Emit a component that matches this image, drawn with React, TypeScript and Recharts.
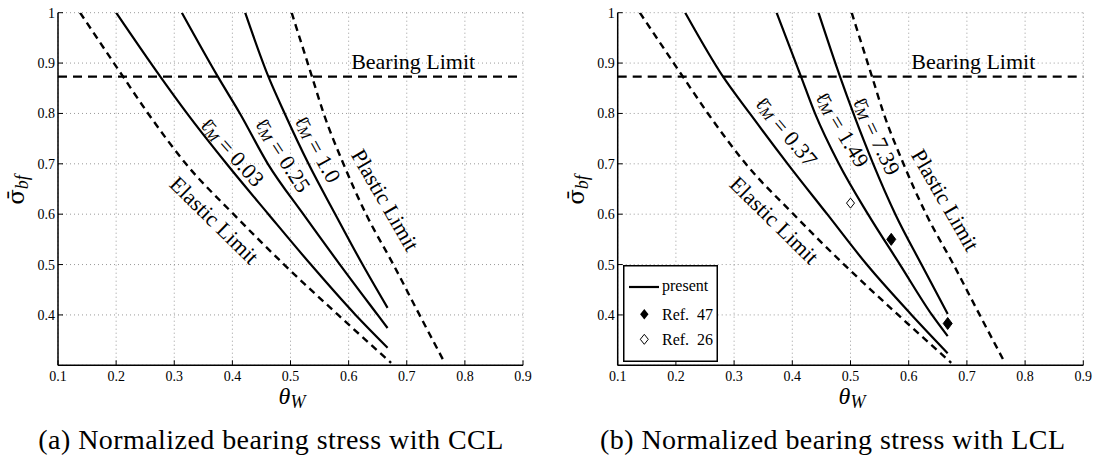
import {
  CartesianGrid,
  ComposedChart,
  Legend,
  Line,
  ReferenceDot,
  ReferenceLine,
  Scatter,
  XAxis,
  YAxis,
} from "recharts";

type Pt = { x: number; y: number };

const xTicks = [0.1, 0.2, 0.3, 0.4, 0.5, 0.6, 0.7, 0.8, 0.9];
const yTicks = [0.4, 0.5, 0.6, 0.7, 0.8, 0.9, 1];
const bearingLimit = 0.873;

// limits are the same in both panels
const elasticLimit: Pt[] = [
  { x: 0.138, y: 1 },
  { x: 0.212, y: 0.873 },
  { x: 0.255, y: 0.8 },
  { x: 0.32, y: 0.7 },
  { x: 0.402, y: 0.6 },
  { x: 0.489, y: 0.5 },
  { x: 0.582, y: 0.4 },
  { x: 0.673, y: 0.305 },
];
const plasticLimit: Pt[] = [
  { x: 0.502, y: 1 },
  { x: 0.537, y: 0.873 },
  { x: 0.557, y: 0.8 },
  { x: 0.591, y: 0.7 },
  { x: 0.63, y: 0.6 },
  { x: 0.677, y: 0.5 },
  { x: 0.722, y: 0.4 },
  { x: 0.763, y: 0.31 },
];

// (a) CCL
const ccl003: Pt[] = [
  { x: 0.2, y: 1 },
  { x: 0.276, y: 0.873 },
  { x: 0.322, y: 0.8 },
  { x: 0.39, y: 0.7 },
  { x: 0.462, y: 0.6 },
  { x: 0.535, y: 0.5 },
  { x: 0.612, y: 0.4 },
  { x: 0.667, y: 0.335 },
];
const ccl025: Pt[] = [
  { x: 0.313, y: 1 },
  { x: 0.375, y: 0.873 },
  { x: 0.413, y: 0.8 },
  { x: 0.461, y: 0.7 },
  { x: 0.522, y: 0.6 },
  { x: 0.585, y: 0.5 },
  { x: 0.65, y: 0.4 },
  { x: 0.667, y: 0.374 },
];
const ccl100: Pt[] = [
  { x: 0.422, y: 1 },
  { x: 0.462, y: 0.873 },
  { x: 0.49, y: 0.8 },
  { x: 0.531, y: 0.7 },
  { x: 0.577, y: 0.6 },
  { x: 0.624, y: 0.5 },
  { x: 0.667, y: 0.414 },
];

// (b) LCL
const lcl037: Pt[] = [
  { x: 0.216, y: 1 },
  { x: 0.281, y: 0.873 },
  { x: 0.327, y: 0.8 },
  { x: 0.392, y: 0.7 },
  { x: 0.46, y: 0.6 },
  { x: 0.528, y: 0.5 },
  { x: 0.605, y: 0.4 },
  { x: 0.667, y: 0.324 },
];
const lcl149: Pt[] = [
  { x: 0.373, y: 1 },
  { x: 0.415, y: 0.873 },
  { x: 0.439, y: 0.8 },
  { x: 0.48, y: 0.7 },
  { x: 0.53, y: 0.6 },
  { x: 0.585, y: 0.5 },
  { x: 0.64, y: 0.4 },
  { x: 0.667, y: 0.358 },
];
const lcl739: Pt[] = [
  { x: 0.445, y: 1 },
  { x: 0.482, y: 0.873 },
  { x: 0.505, y: 0.8 },
  { x: 0.539, y: 0.7 },
  { x: 0.577, y: 0.6 },
  { x: 0.622, y: 0.5 },
  { x: 0.667, y: 0.402 },
];

const ref47: Pt[] = [
  { x: 0.57, y: 0.55 },
  { x: 0.667, y: 0.383 },
];
const ref26: Pt[] = [{ x: 0.5, y: 0.622 }];

type Note = { x: number; y: number; angle: number; lm?: string; text?: string };

const limitNotes: Note[] = [
  { x: 0.369, y: 0.588, angle: 44.5, text: "Elastic Limit" },
  { x: 0.663, y: 0.628, angle: 60, text: "Plastic Limit" },
  { x: 0.711, y: 0.903, angle: 0, text: "Bearing Limit" },
];
const cclNotes: Note[] = [
  { x: 0.4, y: 0.724, angle: 48, lm: "0.03" },
  { x: 0.487, y: 0.718, angle: 57, lm: "0.25" },
  { x: 0.547, y: 0.73, angle: 61, lm: "1.0" },
];
const lclNotes: Note[] = [
  { x: 0.39, y: 0.765, angle: 50, lm: "0.37" },
  { x: 0.486, y: 0.769, angle: 59, lm: "1.49" },
  { x: 0.545, y: 0.756, angle: 64.5, lm: "7.39" },
];

const FONT = "Liberation Serif, DejaVu Serif, serif";
const MATH = "DejaVu Serif, serif";
const H = 457;

function XTick({ x, y, payload }: any) {
  return (
    <g>
      <line x1={x} x2={x} y1={y} y2={y - 5} stroke="#000" strokeWidth={1} />
      <text x={x} y={y + 16} textAnchor="middle" style={{ fontFamily: FONT, fontSize: 14 }} fill="#000">
        {Number(payload.value).toFixed(1)}
      </text>
    </g>
  );
}

function YTick({ x, y, payload }: any) {
  const v = Number(payload.value);
  return (
    <g>
      <line x1={x} x2={x + 5} y1={y} y2={y} stroke="#000" strokeWidth={1} />
      <text x={x - 3} y={y + 5} textAnchor="end" style={{ fontFamily: FONT, fontSize: 14 }} fill="#000">
        {v === 1 ? "1" : v.toFixed(1)}
      </text>
    </g>
  );
}

function NoteText({ cx, cy, note }: { cx: number; cy: number; note: Note }) {
  return (
    <text
      transform={`translate(${cx},${cy}) rotate(${note.angle})`}
      textAnchor="middle"
      dominantBaseline="central"
      style={{ fontFamily: FONT, fontSize: 22 }}
      fill="#000"
    >
      {note.lm ? (
        <>
          <tspan style={{ fontFamily: MATH, fontSize: 20 }}>{"\u2113\u0304"}</tspan>
          <tspan fontStyle="italic" style={{ fontSize: 15 }} dy={4}>
            M
          </tspan>
          <tspan dy={-4}>{` = ${note.lm}`}</tspan>
        </>
      ) : (
        note.text
      )}
    </text>
  );
}

const diamond = (cx: number, cy: number, w: number, h: number) =>
  `${cx},${cy - h} ${cx + w},${cy} ${cx},${cy + h} ${cx - w},${cy}`;

function FilledDiamond({ cx, cy }: any) {
  return <polygon points={diamond(cx, cy, 4.5, 6)} fill="#000" stroke="#000" strokeWidth={1} />;
}
function OpenDiamond({ cx, cy }: any) {
  return <polygon points={diamond(cx, cy, 4, 5)} fill="#fff" stroke="#000" strokeWidth={1} />;
}

function LegendBox() {
  const t = { fontFamily: FONT, fontSize: 16 };
  return (
    <svg width={95} height={97} style={{ display: "block" }}>
      <rect x={0.75} y={0.75} width={93.5} height={95.5} fill="#fff" stroke="#000" strokeWidth={1.5} />
      <line x1={6} x2={36} y1={22} y2={22} stroke="#000" strokeWidth={2.2} />
      <text x={39} y={26} style={t}>
        present
      </text>
      <polygon points={diamond(21.3, 49.3, 4.2, 5.2)} fill="#000" />
      <text x={39} y={54.5} style={t}>
        {"Ref.\u00a0 47"}
      </text>
      <polygon points={diamond(21.3, 74.3, 4, 5)} fill="#fff" stroke="#000" strokeWidth={1} />
      <text x={39} y={79.5} style={t}>
        {"Ref.\u00a0 26"}
      </text>
    </svg>
  );
}

interface PanelProps {
  left: number;
  width: number;
  yAxisWidth: number;
  marginRight: number;
  curves: Pt[][];
  notes: Note[];
  withRefs?: boolean;
}

function Panel({ left, width, yAxisWidth, marginRight, curves, notes, withRefs }: PanelProps) {
  const allNotes = [...limitNotes, ...notes];
  return (
    <div style={{ position: "absolute", left, top: 0 }}>
      <ComposedChart
        width={width}
        height={H}
        margin={{ top: 12.7, right: marginRight, bottom: 61.7, left: 0 }}
      >
        <CartesianGrid stroke="#9a9a9a" strokeDasharray="1 3" strokeWidth={1} />
        <XAxis
          type="number"
          dataKey="x"
          domain={[0.1, 0.9]}
          ticks={xTicks}
          interval={0}
          height={30}
          tickSize={0}
          tickMargin={0}
          tickLine={false}
          axisLine={{ stroke: "#000", strokeWidth: 1.5 }}
          tick={(p: any) => <XTick {...p} />}
          allowDataOverflow
        />
        <YAxis
          type="number"
          dataKey="y"
          domain={[0.3, 1]}
          ticks={yTicks}
          interval={0}
          width={yAxisWidth}
          tickSize={0}
          tickMargin={0}
          tickLine={false}
          axisLine={{ stroke: "#000", strokeWidth: 1.5 }}
          tick={(p: any) => <YTick {...p} />}
          allowDataOverflow
        />
        <ReferenceLine y={bearingLimit} stroke="#000" strokeWidth={2.2} strokeDasharray="9 6" />
        <Line
          data={elasticLimit}
          dataKey="y"
          type="monotone"
          stroke="#000"
          strokeWidth={2.4}
          strokeDasharray="7 5"
          dot={false}
          isAnimationActive={false}
        />
        <Line
          data={plasticLimit}
          dataKey="y"
          type="monotone"
          stroke="#000"
          strokeWidth={2.4}
          strokeDasharray="7 5"
          dot={false}
          isAnimationActive={false}
        />
        {curves.map((c, i) => (
          <Line
            key={i}
            data={c}
            dataKey="y"
            type="monotone"
            stroke="#000"
            strokeWidth={2.2}
            dot={false}
            isAnimationActive={false}
          />
        ))}
        {withRefs && (
          <Scatter data={ref47} dataKey="y" shape={(p: any) => <FilledDiamond {...p} />} isAnimationActive={false} />
        )}
        {withRefs && (
          <Scatter data={ref26} dataKey="y" shape={(p: any) => <OpenDiamond {...p} />} isAnimationActive={false} />
        )}
        {allNotes.map((n, i) => (
          <ReferenceDot
            key={`n${i}`}
            x={n.x}
            y={n.y}
            r={0}
            shape={(p: any) => <NoteText cx={p.cx} cy={p.cy} note={n} />}
          />
        ))}
        {withRefs && (
          <Legend
            layout="vertical"
            align="center"
            verticalAlign="middle"
            content={() => <LegendBox />}
            wrapperStyle={{ left: 74.7, top: 265, width: 95, height: 97 }}
          />
        )}
      </ComposedChart>
    </div>
  );
}

export default function App() {
  return (
    <div
      style={{
        position: "absolute",
        left: 0,
        top: 0,
        width: 1097,
        height: H,
        background: "#fff",
      }}
    >
      <Panel left={0} width={548} yAxisWidth={58} marginRight={25} curves={[ccl003, ccl025, ccl100]} notes={cclNotes} />
      <Panel
        left={548}
        width={549}
        yAxisWidth={69.7}
        marginRight={13.7}
        curves={[lcl037, lcl149, lcl739]}
        notes={lclNotes}
        withRefs
      />
      <svg
        width={1097}
        height={H}
        style={{ position: "absolute", left: 0, top: 0, pointerEvents: "none", fontFamily: FONT }}
      >
        {[
          { yx: 24, tx: 292, cx: 38.3 },
          { yx: 584, tx: 852, cx: 600 },
        ].map((p, i) => (
          <g key={i}>
            <text transform={`translate(${p.yx},190) rotate(-90)`} textAnchor="middle" style={{ fontSize: 26 }}>
              <tspan style={{ fontFamily: MATH, fontSize: 23 }}>{"\u03c3\u0304"}</tspan>
              <tspan fontStyle="italic" style={{ fontSize: 18 }} dy={4}>
                bf
              </tspan>
            </text>
            <text x={p.tx} y={404} textAnchor="middle" style={{ fontSize: 24 }}>
              <tspan fontStyle="italic">θ</tspan>
              <tspan fontStyle="italic" style={{ fontSize: 18 }} dy={4}>
                W
              </tspan>
            </text>
            <text x={p.cx} y={449} style={{ fontSize: 28 }} textLength={465} lengthAdjust="spacing">
              {i === 0 ? "(a) Normalized bearing stress with CCL" : "(b) Normalized bearing stress with LCL"}
            </text>
          </g>
        ))}
      </svg>
    </div>
  );
}
